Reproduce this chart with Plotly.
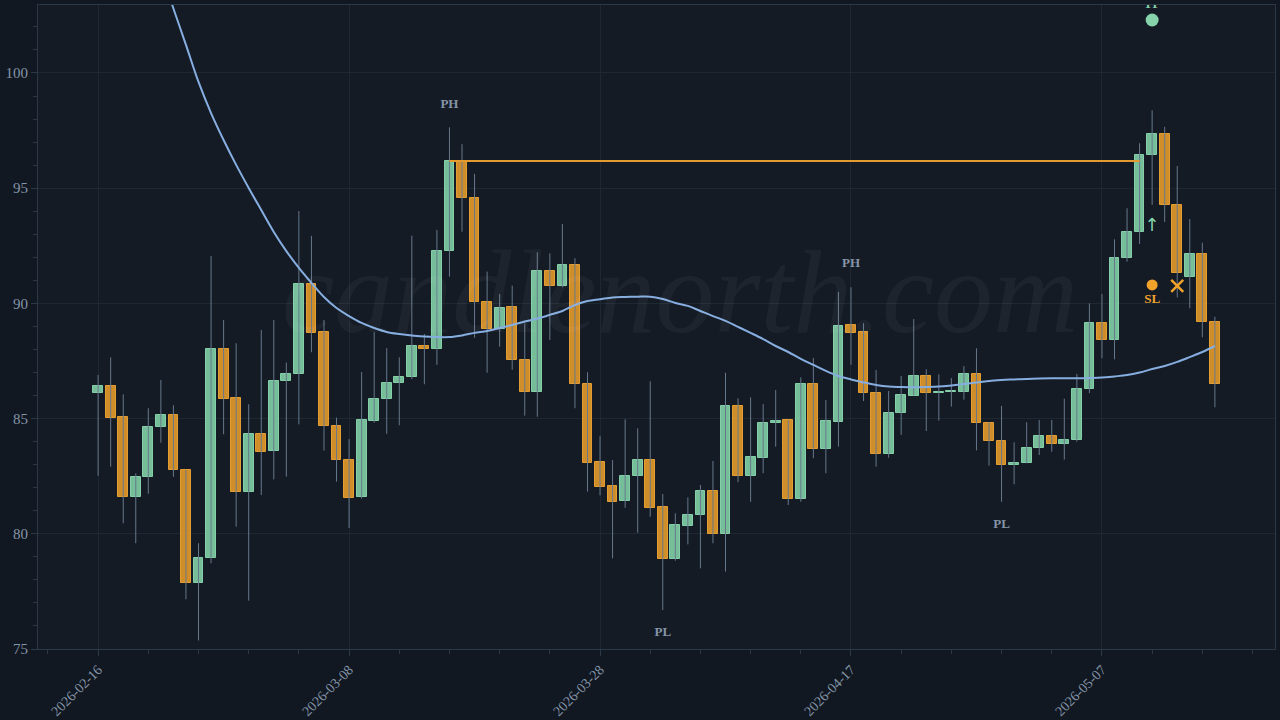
import pandas as pd
import plotly.graph_objects as go

# ---------------- data ----------------
start_date = "2026-02-16"
n_days = 90
dates = list(pd.date_range(start_date, periods=n_days, freq="D"))

opens = [86.11, 86.43, 85.07, 81.58, 82.47, 84.65, 85.14, 82.77, 77.88, 78.96,
         88.02, 85.88, 81.80, 84.33, 83.58, 86.62, 86.95, 90.83, 88.76, 84.66,
         83.20, 81.58, 84.91, 85.85, 86.55, 86.79, 88.15, 88.01, 92.27, 96.18,
         94.59, 90.05, 88.88, 89.83, 87.53, 86.17, 91.41, 90.77, 91.67, 86.49,
         83.10, 82.07, 81.41, 82.51, 83.19, 81.18, 78.91, 80.35, 80.80, 81.87,
         79.99, 85.53, 82.52, 83.29, 84.80, 84.92, 81.50, 86.49, 83.68, 84.87,
         89.05, 88.75, 86.12, 83.45, 85.26, 86.00, 86.84, 86.10, 86.14, 86.15,
         86.92, 84.80, 84.04, 83.00, 83.06, 83.74, 84.23, 83.88, 84.08, 86.27,
         89.14, 88.40, 91.98, 93.09, 96.43, 97.35, 94.26, 91.13, 92.14, 89.21]
closes = [86.43, 85.04, 81.58, 82.48, 84.65, 85.14, 82.76, 77.86, 78.96, 88.03,
          85.86, 81.81, 84.33, 83.56, 86.62, 86.95, 90.83, 88.73, 84.66, 83.19,
          81.55, 84.94, 85.86, 86.56, 86.82, 88.16, 88.01, 92.27, 96.18, 94.59,
          90.05, 88.88, 89.81, 87.53, 86.17, 91.41, 90.76, 91.67, 86.49, 83.07,
          82.04, 81.39, 82.52, 83.19, 81.13, 78.91, 80.38, 80.82, 81.87, 79.99,
          85.53, 82.52, 83.32, 84.81, 84.91, 81.50, 86.49, 83.68, 84.88, 89.03,
          88.73, 86.12, 83.45, 85.26, 86.01, 86.85, 86.10, 86.17, 86.20, 86.92,
          84.80, 84.03, 83.00, 83.07, 83.74, 84.23, 83.88, 84.08, 86.27, 89.14,
          88.40, 91.98, 93.10, 96.45, 97.35, 94.26, 91.31, 92.14, 89.21, 86.50]
highs = [86.89, 87.66, 86.05, 82.62, 85.45, 86.68, 85.58, 82.77, 79.59, 92.06,
         89.28, 88.27, 85.62, 88.85, 89.28, 87.43, 94.01, 92.93, 89.28, 85.04,
         84.11, 87.02, 88.76, 88.06, 87.66, 92.94, 88.67, 93.19, 97.64, 96.91,
         95.62, 91.38, 90.41, 90.77, 89.14, 92.22, 92.17, 93.45, 91.96, 87.01,
         84.24, 83.20, 84.97, 84.58, 86.62, 81.73, 80.89, 81.58, 82.12, 83.16,
         86.99, 85.88, 85.92, 85.63, 86.24, 84.92, 86.79, 87.63, 85.81, 90.50,
         90.70, 89.14, 87.11, 86.20, 86.85, 89.32, 87.14, 86.92, 86.76, 87.28,
         88.05, 84.85, 85.55, 83.97, 84.84, 84.94, 84.94, 85.86, 86.94, 90.00,
         90.41, 92.78, 94.13, 96.95, 98.38, 97.66, 95.96, 93.66, 92.63, 89.42]
lows = [82.52, 82.91, 80.46, 79.59, 81.74, 83.95, 82.47, 77.16, 75.37, 78.72,
        84.32, 80.31, 77.10, 81.68, 82.36, 82.48, 84.75, 87.88, 83.61, 82.26,
        80.25, 81.52, 84.82, 84.34, 84.71, 86.71, 86.49, 87.33, 91.16, 93.11,
        88.51, 86.99, 88.12, 87.12, 85.13, 85.08, 88.41, 90.70, 85.45, 81.83,
        81.67, 78.94, 81.13, 80.05, 80.74, 76.69, 78.83, 79.54, 78.50, 79.59,
        78.36, 82.24, 81.39, 82.63, 83.78, 81.25, 81.39, 83.28, 82.63, 83.78,
        87.33, 85.76, 82.91, 83.30, 84.29, 86.00, 84.46, 84.91, 85.52, 85.82,
        83.62, 82.96, 81.39, 82.15, 83.06, 83.42, 83.56, 83.22, 84.00, 86.10,
        87.62, 87.57, 91.81, 92.58, 94.28, 93.53, 90.26, 89.79, 88.53, 85.49]

smooth_line = [112.5, 110.8, 109.2, 107.6, 106.0, 104.4, 102.8, 101.22, 99.61, 98.26,
               97.09, 96.01, 95.01, 94.05, 93.10, 92.27, 91.54, 90.89, 90.28, 89.80,
               89.45, 89.15, 88.93, 88.76, 88.67, 88.61, 88.56, 88.54, 88.54, 88.61,
               88.72, 88.80, 88.93, 89.06, 89.21, 89.34, 89.50, 89.67, 89.93, 90.10,
               90.18, 90.26, 90.28, 90.29, 90.29, 90.19, 90.02, 89.89, 89.67, 89.45,
               89.24, 88.98, 88.72, 88.45, 88.15, 87.89, 87.59, 87.33, 87.07, 86.85,
               86.70, 86.57, 86.46, 86.39, 86.37, 86.36, 86.37, 86.39, 86.44, 86.50,
               86.57, 86.63, 86.68, 86.70, 86.72, 86.74, 86.75, 86.75, 86.75, 86.76,
               86.78, 86.83, 86.89, 87.00, 87.15, 87.28, 87.46, 87.67, 87.89, 88.15]

# swing labels: (candle index, label, kind)
swing_idx = [28, 60, 45, 72]
swing_lbl = ["PH", "PH", "PL", "PL"]
swing_kind = ["high", "high", "low", "low"]
swing_offset = 1.0

# breakout level
level_value = 96.18
level_start_idx = 28
level_end_idx = 83

# trade markers
entry_idx = 84
entry_value = 93.32
tp_value = 102.30
sl_value = 90.80
exit_idx = 86
exit_value = 90.76

y_ticks = [75, 80, 85, 90, 95, 100]

# ---------------- styles ----------------
GREEN = "#7cc7a1"
GREEN_EDGE = "#8ad9b0"
ORANGE = "#db952b"
ORANGE_EDGE = "#f0a432"
WICK = "#66788c"
SMOOTH = "#86aee0"
LABEL = "#8595a8"
GRID = "#1d2833"
AXIS = "#2a3848"
SERIF = "Liberation Serif, DejaVu Serif, serif"
DAY_MS = 86400000

fig = go.Figure()

# wicks
wx, wy = [], []
for d, lo, hi in zip(dates, lows, highs):
    wx += [d, d, None]
    wy += [lo, hi, None]
fig.add_trace(go.Scatter(x=wx, y=wy, mode="lines", line=dict(color=WICK, width=1),
                         hoverinfo="skip", showlegend=False))

# bodies
for up, fill, edge in [(True, GREEN, GREEN_EDGE), (False, ORANGE, ORANGE_EDGE)]:
    bx, bbase, bh = [], [], []
    for d, o, c in zip(dates, opens, closes):
        if (c >= o) == up:
            bx.append(d)
            bbase.append(min(o, c))
            bh.append(max(abs(c - o), 0.06))
    fig.add_trace(go.Bar(x=bx, y=bh, base=bbase, width=0.78 * DAY_MS,
                         marker=dict(color=fill, line=dict(color=edge, width=1), opacity=0.95),
                         showlegend=False, hoverinfo="skip"))

# smooth line
fig.add_trace(go.Scatter(x=dates, y=smooth_line, mode="lines",
                         line=dict(color=SMOOTH, width=2, shape="spline"),
                         showlegend=False, hoverinfo="skip"))

# level line
fig.add_trace(go.Scatter(x=[dates[level_start_idx], dates[level_end_idx]],
                         y=[level_value, level_value], mode="lines",
                         line=dict(color="#e39a2e", width=2),
                         showlegend=False, hoverinfo="skip"))

# swing labels
sx, sy = [], []
for i, k in zip(swing_idx, swing_kind):
    sx.append(dates[i])
    sy.append(highs[i] + swing_offset if k == "high" else lows[i] - swing_offset)
fig.add_trace(go.Scatter(x=sx, y=sy, mode="text", text=[f"<b>{t}</b>" for t in swing_lbl],
                         textfont=dict(family=SERIF, size=13, color=LABEL),
                         showlegend=False, hoverinfo="skip"))

# TP
fig.add_trace(go.Scatter(x=[dates[entry_idx]], y=[tp_value], mode="markers+text",
                         marker=dict(color="#86d3ac", size=13),
                         text=["<b>TP</b>"], textposition="top center",
                         textfont=dict(family=SERIF, size=13, color="#86d3ac"),
                         showlegend=False, hoverinfo="skip"))
# SL
fig.add_trace(go.Scatter(x=[dates[entry_idx]], y=[sl_value], mode="markers+text",
                         marker=dict(color="#f0a22a", size=11),
                         text=["<b>SL</b>"], textposition="bottom center",
                         textfont=dict(family=SERIF, size=13, color="#f0a22a"),
                         showlegend=False, hoverinfo="skip"))
# entry arrow
fig.add_trace(go.Scatter(x=[dates[entry_idx]], y=[entry_value], mode="text",
                         text=["↑"], textfont=dict(family="DejaVu Sans", size=18, color="#86d3ac"),
                         showlegend=False, hoverinfo="skip"))
# exit X
fig.add_trace(go.Scatter(x=[dates[exit_idx]], y=[exit_value], mode="markers",
                         marker=dict(symbol="x-thin", size=12,
                                     line=dict(color="#f0a22a", width=2.5)),
                         showlegend=False, hoverinfo="skip"))

fig.add_annotation(text="<i>candlenorth.com</i>", xref="paper", yref="paper",
                   x=0.519, y=0.554, showarrow=False,
                   font=dict(family=SERIF, size=118, color="rgba(255,255,255,0.045)"))

fig.update_layout(
    width=1280, height=720,
    margin=dict(l=38, r=5, t=5, b=71, autoexpand=False),
    paper_bgcolor="#111821",
    plot_bgcolor="#141b25",
    barmode="overlay",
    bargap=0,
    showlegend=False,
    font=dict(family=SERIF, color=LABEL),
)
fig.update_xaxes(
    type="date",
    automargin=False,
    range=["2026-02-11 05:00", "2026-05-20 19:00"],
    tick0=start_date, dtick=20 * DAY_MS, tickformat="%Y-%m-%d", tickangle=-45,
    tickfont=dict(family=SERIF, size=14, color=LABEL),
    showgrid=True, gridcolor=GRID, gridwidth=1,
    ticks="outside", ticklen=6, tickcolor=AXIS,
    minor=dict(dtick=4 * DAY_MS, tick0=start_date, ticks="outside", ticklen=4,
               tickcolor=AXIS, showgrid=False),
    showline=True, linecolor=AXIS, linewidth=1, mirror=True,
    zeroline=False, rangeslider=dict(visible=False),
)
fig.update_yaxes(
    automargin=False,
    range=[75, 102.95],
    tickvals=y_ticks,
    tickfont=dict(family=SERIF, size=15, color=LABEL),
    showgrid=True, gridcolor=GRID, gridwidth=1,
    ticks="outside", ticklen=6, tickcolor=AXIS,
    minor=dict(dtick=1, tick0=75, ticks="outside", ticklen=4, tickcolor=AXIS, showgrid=False),
    showline=True, linecolor=AXIS, linewidth=1, mirror=True,
    zeroline=False,
)

fig.write_html("out.html")
